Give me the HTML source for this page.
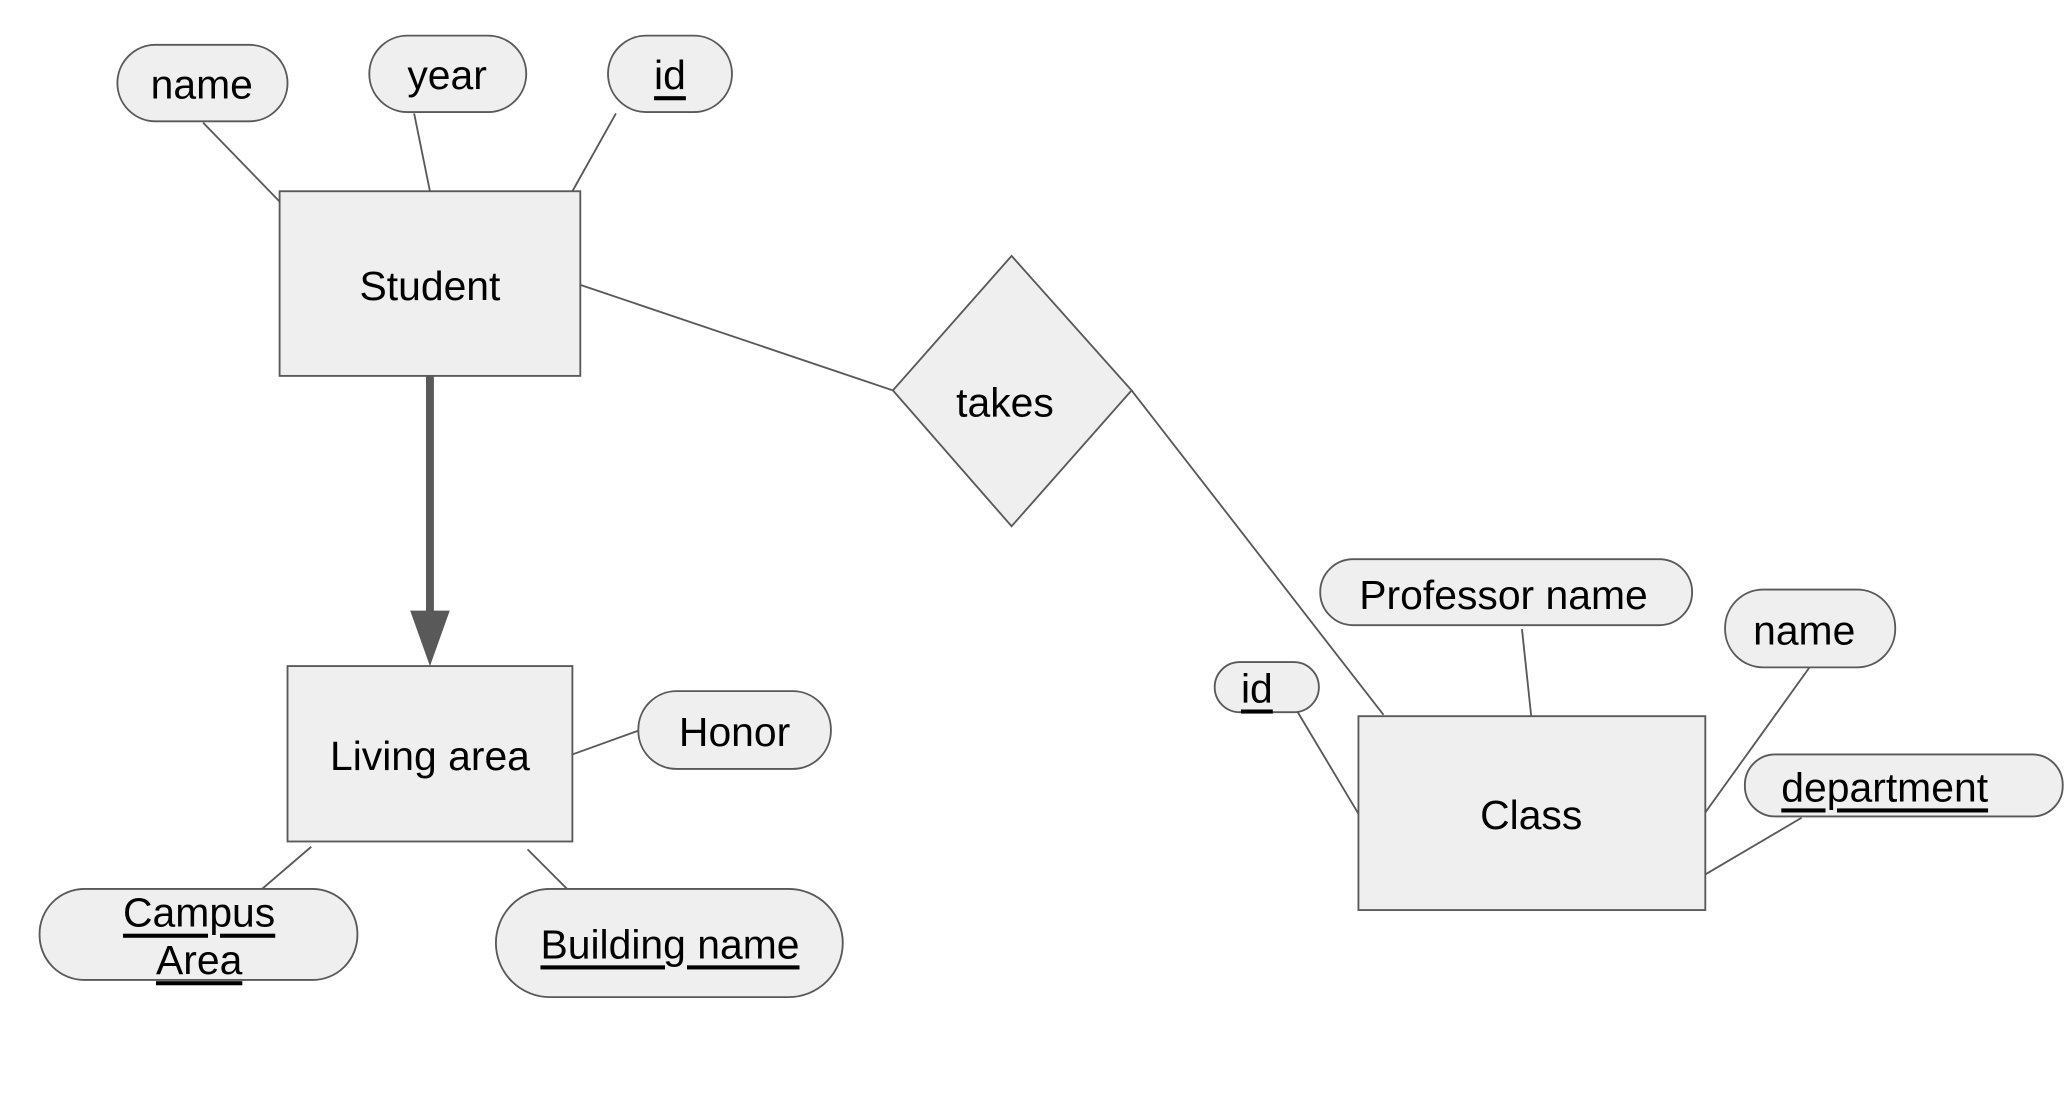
<!DOCTYPE html>
<html><head><meta charset="utf-8"><style>
html,body{margin:0;padding:0;background:#fff;}
svg{display:block;}
text{font-family:"Liberation Sans",Arial,sans-serif;font-size:31px;fill:#000;text-anchor:middle;dominant-baseline:central;}
.s{fill:#efefef;stroke:#595959;stroke-width:1.4;}
.l{stroke:#595959;stroke-width:1.4;fill:none;}
.u{text-decoration:underline;}
</style></head><body>
<svg width="2068" height="1100" viewBox="0 0 1568 834" preserveAspectRatio="none" xmlns="http://www.w3.org/2000/svg">
<line class="l" x1="154" y1="93" x2="218" y2="159"/>
<line class="l" x1="314" y1="86" x2="326" y2="145"/>
<line class="l" x1="467" y1="86" x2="434" y2="145"/>
<line class="l" x1="440" y1="216" x2="677" y2="296"/>
<line class="l" x1="858" y1="296" x2="1049" y2="542"/>
<line class="l" x1="434" y1="572" x2="484" y2="554"/>
<line class="l" x1="236" y1="642" x2="194" y2="678"/>
<line class="l" x1="400" y1="644" x2="432" y2="676"/>
<line class="l" x1="1154" y1="477" x2="1161" y2="543"/>
<line class="l" x1="1372" y1="506" x2="1293" y2="616"/>
<line class="l" x1="984" y1="540" x2="1030" y2="617"/>
<line class="l" x1="1366" y1="620" x2="1293" y2="663"/>
<line x1="326" y1="285" x2="326" y2="466" stroke="#595959" stroke-width="6"/>
<polygon points="311,463 341,463 326,505" fill="#595959"/>
<rect class="s" x="212" y="145" width="228" height="140"/>
<text x="326" y="217">Student</text>
<rect class="s" x="89" y="34" width="129" height="58" rx="29"/>
<text x="153" y="64">name</text>
<rect class="s" x="280" y="27" width="119" height="58" rx="29"/>
<text x="339" y="57">year</text>
<rect class="s" x="461" y="27" width="94" height="58" rx="29"/>
<text x="508" y="57" class="u">id</text>
<polygon class="s" points="767,194 858,296 767,399 677,296"/>
<text x="762" y="305">takes</text>
<rect class="s" x="218" y="505" width="216" height="133"/>
<text x="326" y="573">Living area</text>
<rect class="s" x="484" y="524" width="146" height="59" rx="29"/>
<text x="557" y="555">Honor</text>
<rect class="s" x="30" y="674" width="241" height="69" rx="34"/>
<text x="151" y="692" class="u">Campus</text>
<text x="151" y="728" class="u">Area</text>
<rect class="s" x="376" y="674" width="263" height="82" rx="41"/>
<text x="508" y="716" class="u">Building name</text>
<rect class="s" x="1030" y="543" width="263" height="147"/>
<text x="1161" y="618">Class</text>
<rect class="s" x="1001" y="424" width="282" height="50" rx="25"/>
<text x="1140" y="451">Professor name</text>
<rect class="s" x="1308" y="447" width="129" height="59" rx="29"/>
<text x="1368" y="478">name</text>
<rect class="s" x="921" y="502" width="79" height="38" rx="19"/>
<text x="953" y="522" class="u">id</text>
<rect class="s" x="1323" y="572" width="241" height="47" rx="23"/>
<text x="1429" y="597" class="u">department</text>
</svg>
</body></html>
